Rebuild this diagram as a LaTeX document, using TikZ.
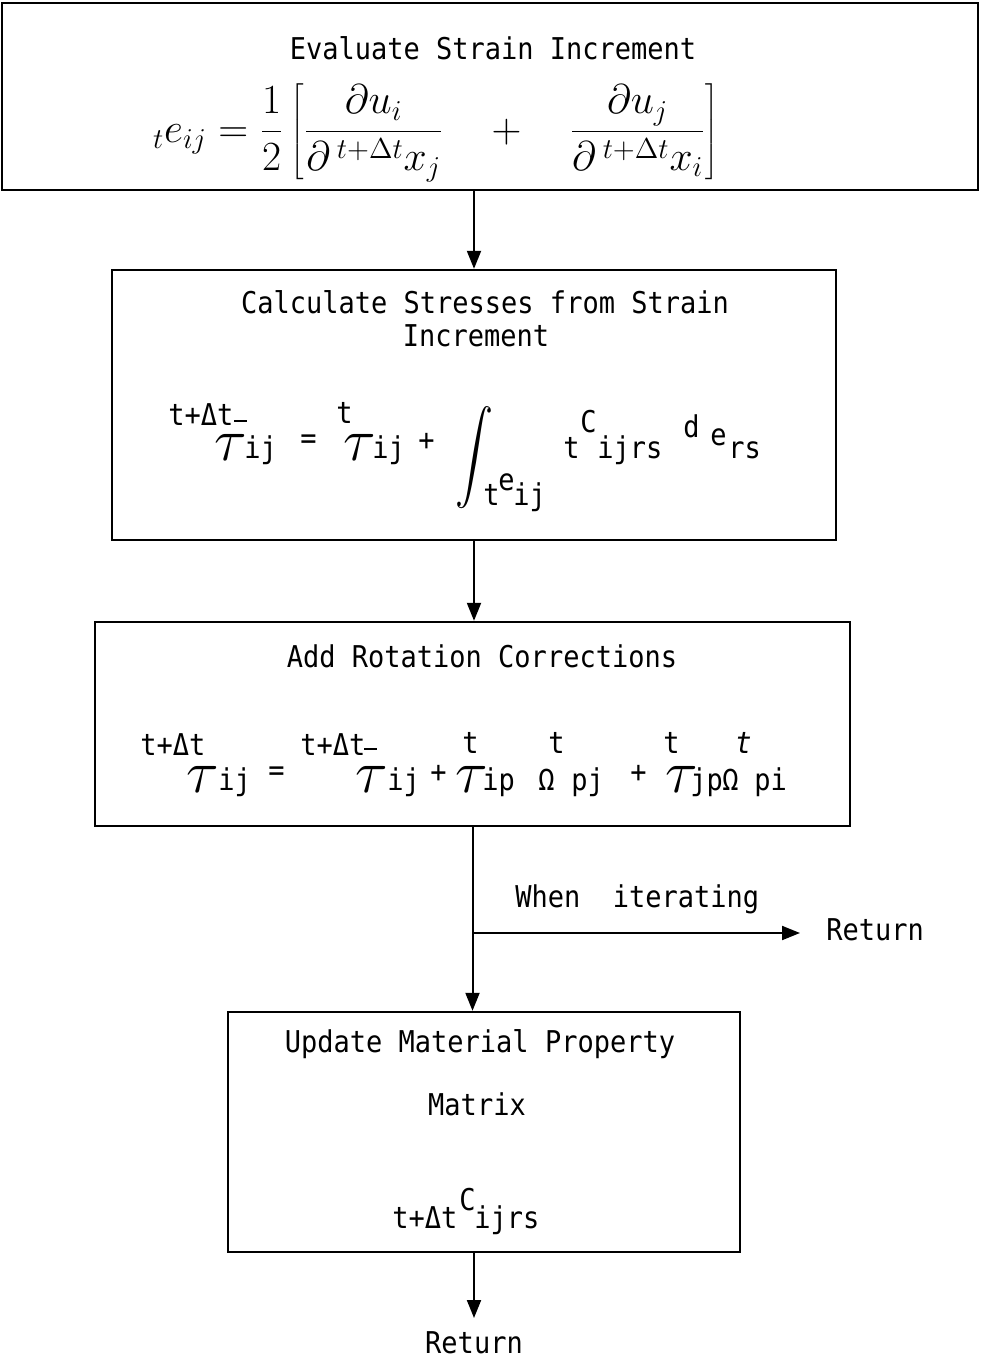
\documentclass[tikz,border=0pt]{standalone}
\usepackage[no-math]{fontspec}
\usepackage{graphicx}
\newfontfamily\tw[FakeStretch=0.9]{DejaVu Sans Mono}
\usetikzlibrary{arrows.meta}
\newcommand{\btau}{\scalebox{2.1}{$\tau$}}
\newcommand{\mbar}{\rule{6.5pt}{0.9pt}}
\begin{document}
\begin{tikzpicture}[x=0.5pt,y=-0.5pt,
  tx/.style={font=\tw\fontsize{15}{18}\selectfont, inner sep=0pt},
  pc/.style={tx, anchor=base west},
  ttl/.style={tx, anchor=base},
  box/.style={draw, line width=1.2pt, inner sep=0pt},
  arr/.style={line width=1pt, -{Triangle[length=9pt,width=7pt]}}]
\useasboundingbox[fill=white] (0,0) rectangle (980,1364);
% boxes
\node[box, minimum width=488pt, minimum height=93.5pt] (b1) at (490,96.5) {};
\node[box, minimum width=362pt, minimum height=135pt] (b2) at (474,405) {};
\node[box, minimum width=377.5pt, minimum height=102pt] (b3) at (472.5,724) {};
\node[box, minimum width=256pt, minimum height=120pt] (b4) at (484,1132) {};
% box 1
\node[ttl] (t1) at (493,60) {Evaluate Strain Increment};
\node[inner sep=0pt, font=\fontsize{19.5}{23}\selectfont] (f1) at (436,133)
  {$\displaystyle {}_t e_{ij} = \frac{1}{2}\left[\frac{\partial u_i}{\partial\,{}^{t+\Delta t}x_j} \quad + \quad \frac{\partial u_j}{\partial\,{}^{t+\Delta t}x_i}\right]$};
% box 2
\node[ttl] (t2a) at (485,313) {Calculate Stresses from Strain};
\node[ttl] (t2b) at (476,346) {Increment};
\node[pc] (f2a) at (168,425) {t+Δt};
\node[pc] (f2bb) at (234,422) {\mbar};
\node[pc] (f2b) at (214,460) {\btau};
\node[pc] (f2c) at (244,458) {ij};
\node[pc] (f2d) at (300,448) {=};
\node[pc] (f2e) at (336,423) {t};
\node[pc] (f2f) at (343,460) {\btau};
\node[pc] (f2g) at (372,458) {ij};
\node[pc] (f2h) at (418,450) {+};
\node[inner sep=0pt, font=\fontsize{15}{18}\selectfont] (f2i) at (474,458) {\scalebox{1.9}[2.3]{$\displaystyle\int$}};
\node[pc] (f2j) at (483,505) {t};
\node[pc] (f2k) at (498,490) {e};
\node[pc] (f2l) at (513,505) {ij};
\node[pc] (f2m) at (563,458) {t};
\node[pc] (f2n) at (580,432) {C};
\node[pc] (f2o) at (597,458) {ijrs};
\node[pc] (f2p) at (683,437) {d};
\node[pc] (f2q) at (710,445) {e};
\node[pc] (f2r) at (728,458) {rs};
% box 3
\node[ttl] (t3) at (482,667) {Add Rotation Corrections};
\node[pc] (f3a) at (140,755) {t+Δt};
\node[pc] (f3b) at (186,792) {\btau};
\node[pc] (f3c) at (218,790) {ij};
\node[pc] (f3d) at (268,780) {=};
\node[pc] (f3e) at (300,755) {t+Δt};
\node[pc] (f3ff) at (364,750) {\mbar};
\node[pc] (f3f) at (355,792) {\btau};
\node[pc] (f3g) at (387,790) {ij};
\node[pc] (f3h) at (430,782) {+};
\node[pc] (f3i) at (462,753) {t};
\node[pc] (f3j) at (455,792) {\btau};
\node[pc] (f3k) at (482,790) {ip};
\node[pc] (f3l) at (548,753) {t};
\node[pc] (f3m) at (538,790) {Ω};
\node[pc] (f3n) at (571,790) {pj};
\node[pc] (f3o) at (630,782) {+};
\node[pc] (f3p) at (663,753) {t};
\node[pc] (f3q) at (665,792) {\btau};
\node[pc] (f3r) at (690,790) {jp};
\node[pc] (f3s) at (735,753) {\itshape t};
\node[pc] (f3t) at (722,790) {Ω};
\node[pc] (f3u) at (754,790) {pi};
% box 4
\node[ttl] (t4a) at (480,1052) {Update Material Property};
\node[ttl] (t4b) at (477,1115) {Matrix};
\node[pc] (f4a) at (392,1228) {t+Δt};
\node[pc] (f4b) at (459,1210) {C};
\node[pc] (f4c) at (474,1228) {ijrs};
% side labels
\node[pc] (wi) at (515,907) {When\ \ iterating};
\node[tx, anchor=base west] (r1) at (826,940) {Return};
\node[ttl] (r2) at (474,1353) {Return};
% connectors
\draw[arr] (b2.north |- b1.south) -- (b2.north);
\draw[arr] (b2.south) -- (b2.south |- b3.north);
\draw[arr] (b3.south) -- (b3.south |- b4.north);
\coordinate (br) at (472.5,933);
\coordinate (brend) at (800,933);
\draw[arr] (br) -- (brend);
\coordinate (bend) at (474,1318);
\draw[arr] (b4.south -| bend) -- (bend);
\end{tikzpicture}
\end{document}
